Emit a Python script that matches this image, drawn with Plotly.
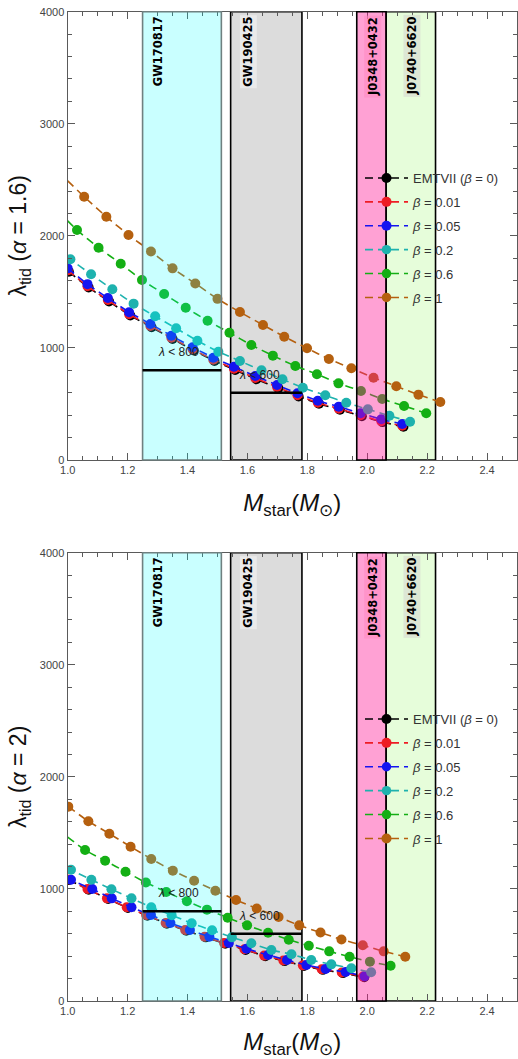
import plotly.graph_objects as go

# ---------------- data: alpha = 1.6 ----------------
a16_m_emt = [1.004, 1.070, 1.138, 1.209, 1.280, 1.350, 1.421, 1.490, 1.559, 1.630, 1.703, 1.771, 1.839, 1.909, 1.982, 2.051, 2.121]
a16_l_emt = [1680, 1539, 1415, 1289, 1184, 1080, 977, 884, 803, 720, 641, 567, 502, 449, 391, 338, 296]
a16_m_b001 = [1.000, 1.066, 1.134, 1.205, 1.276, 1.346, 1.417, 1.486, 1.555, 1.626, 1.699, 1.767, 1.835, 1.905, 1.978, 2.047, 2.117]
a16_l_b001 = [1692, 1551, 1427, 1301, 1196, 1091, 988, 895, 814, 731, 651, 577, 511, 458, 399, 345, 305]
a16_m_b005 = [1.000, 1.066, 1.134, 1.205, 1.276, 1.346, 1.417, 1.486, 1.555, 1.626, 1.699, 1.767, 1.835, 1.905, 1.978, 2.047, 2.117]
a16_l_b005 = [1710, 1569, 1445, 1319, 1214, 1109, 1006, 913, 832, 749, 669, 595, 529, 476, 417, 363, 321]
a16_m_b02 = [1.009, 1.078, 1.149, 1.220, 1.292, 1.362, 1.433, 1.503, 1.575, 1.647, 1.717, 1.785, 1.860, 1.930, 2.002, 2.074, 2.143]
a16_l_b02 = [1791, 1657, 1523, 1395, 1282, 1175, 1064, 966, 883, 800, 720, 645, 577, 511, 452, 395, 342]
a16_m_b06 = [1.031, 1.103, 1.177, 1.248, 1.322, 1.394, 1.467, 1.540, 1.613, 1.685, 1.760, 1.832, 1.904, 1.979, 2.050, 2.123, 2.197]
a16_l_b06 = [2052, 1894, 1751, 1606, 1481, 1359, 1243, 1136, 1026, 931, 839, 765, 684, 616, 544, 482, 417]
a16_m_b1 = [1.055, 1.129, 1.203, 1.278, 1.350, 1.426, 1.500, 1.575, 1.652, 1.723, 1.799, 1.872, 1.947, 2.021, 2.097, 2.171, 2.244]
a16_l_b1 = [2349, 2171, 2008, 1860, 1710, 1575, 1438, 1320, 1205, 1100, 997, 901, 818, 734, 658, 583, 517]
# fitted curves start at M = 1.0
a16_start = [1690, 1700, 1727, 1815, 2134, 2491]

# ---------------- data: alpha = 2 ----------------
a2_m_emt = [1.004, 1.070, 1.135, 1.201, 1.266, 1.331, 1.396, 1.461, 1.526, 1.594, 1.660, 1.724, 1.789, 1.852, 1.919, 1.990]
a2_l_emt = [1079, 993, 910, 830, 761, 690, 627, 568, 511, 456, 399, 356, 312, 278, 249, 212]
a2_m_b001 = [1.000, 1.066, 1.131, 1.197, 1.262, 1.327, 1.392, 1.457, 1.522, 1.590, 1.656, 1.720, 1.785, 1.848, 1.915, 1.986]
a2_l_b001 = [1085, 999, 916, 836, 767, 696, 633, 574, 517, 462, 405, 362, 318, 284, 255, 218]
a2_m_b005 = [1.011, 1.082, 1.147, 1.213, 1.278, 1.343, 1.408, 1.473, 1.538, 1.597, 1.669, 1.732, 1.797, 1.861, 1.928, 1.991]
a2_l_b005 = [1082, 999, 916, 836, 767, 696, 633, 574, 517, 467, 410, 366, 321, 286, 258, 220]
a2_m_b02 = [1.011, 1.079, 1.146, 1.213, 1.279, 1.347, 1.414, 1.482, 1.548, 1.613, 1.680, 1.747, 1.813, 1.880, 1.947, 2.013]
a2_l_b02 = [1171, 1082, 997, 916, 837, 766, 693, 631, 568, 515, 455, 417, 366, 327, 292, 256]
a2_m_b06 = [1.058, 1.125, 1.193, 1.261, 1.329, 1.398, 1.465, 1.534, 1.599, 1.669, 1.738, 1.805, 1.873, 1.941, 2.009, 2.078]
a2_l_b06 = [1347, 1252, 1154, 1057, 973, 890, 815, 743, 675, 609, 547, 493, 443, 395, 351, 315]
a2_m_b1 = [1.002, 1.069, 1.139, 1.210, 1.279, 1.351, 1.422, 1.493, 1.562, 1.631, 1.704, 1.773, 1.844, 1.914, 1.985, 2.055, 2.127]
a2_l_b1 = [1734, 1604, 1493, 1377, 1267, 1163, 1073, 984, 901, 825, 749, 675, 611, 549, 497, 443, 395]
a2_start = [1090, 1095, 1109, 1193, 1463, 1749]

series_names = ["EMTVII (<i>β</i> = 0)", "<i>β</i> = 0.01", "<i>β</i> = 0.05",
                "<i>β</i> = 0.2", "<i>β</i> = 0.6", "<i>β</i> = 1"]
series_colors = ["#000000", "#EE1C24", "#1414F0", "#1EB2AE", "#14AF14", "#B5600F"]

# observational mass windows
band_names = ["GW170817", "GW190425", "J0348+0432", "J0740+6620"]
band_lo = [1.25, 1.544, 1.965, 2.063]
band_hi = [1.513, 1.782, 2.063, 2.228]
band_label_x = [1.30, 1.602, 2.019, 2.15]
# tidal upper limits over the GW windows
limit_values = [800, 600]
limit_text = ["<i>λ</i> < 800", "<i>λ</i> < 600"]
limit_text_x = [1.37, 1.64]

panels = [
    dict(m=[a16_m_emt, a16_m_b001, a16_m_b005, a16_m_b02, a16_m_b06, a16_m_b1],
         l=[a16_l_emt, a16_l_b001, a16_l_b005, a16_l_b02, a16_l_b06, a16_l_b1],
         start=a16_start, ytitle="λ<sub>tid</sub> (<i>α</i> = 1.6)"),
    dict(m=[a2_m_emt, a2_m_b001, a2_m_b005, a2_m_b02, a2_m_b06, a2_m_b1],
         l=[a2_l_emt, a2_l_b001, a2_l_b005, a2_l_b02, a2_l_b06, a2_l_b1],
         start=a2_start, ytitle="λ<sub>tid</sub> (<i>α</i> = 2)"),
]

W, H = 518, 1059
FONT = "Liberation Sans, Arial, sans-serif"
x_dom = [67.7 / W, 517.0 / W]
y_doms = [[1 - 460 / H, 1 - 11.7 / H], [1 - 1001 / H, 1 - 552.7 / H]]
legend_tops = [1 - 163 / H, 1 - 704 / H]

fig = go.Figure()
layout = dict(width=W, height=H, margin=dict(l=0, r=0, t=0, b=0, autoexpand=False),
              paper_bgcolor="white", plot_bgcolor="white",
              font=dict(family=FONT, color="#333333"))
shapes, annotations = [], []

for p, panel in enumerate(panels):
    sfx = "" if p == 0 else str(p + 1)
    xa, ya = "x" + sfx, "y" + sfx
    leg = "legend" + sfx
    for k in range(6):
        ms, ls = panel["m"][k], panel["l"][k]
        xs, ys, sz = list(ms), list(ls), [10] * len(ms)
        if ms[0] > 1.004:
            xs = [1.0] + xs
            ys = [panel["start"][k]] + ys
            sz = [0] + sz
        fig.add_trace(go.Scatter(
            x=xs, y=ys, xaxis=xa, yaxis=ya, mode="lines+markers",
            name=series_names[k], legend=leg, legendgroup=f"p{p}s{k}",
            line=dict(color=series_colors[k], width=1.6, dash="8px,5px", shape="spline", smoothing=0.6),
            marker=dict(color=series_colors[k], size=sz, opacity=1, line=dict(width=0)),
            hoverinfo="skip"))

    axis_common = dict(showline=True, linecolor="#5a5a5a", linewidth=1.3, mirror="allticks",
                       ticks="inside", ticklen=7, tickwidth=1.1, tickcolor="#5a5a5a",
                       showgrid=False, zeroline=False, automargin=False,
                       tickfont=dict(family=FONT, size=11, color="#444444"))
    layout["xaxis" + sfx] = dict(axis_common, domain=x_dom, range=[1.0, 2.5], tick0=1.0, dtick=0.2,
                                 tickformat=".1f", anchor=ya,
                                 minor=dict(dtick=0.05, ticklen=4, tickcolor="#5a5a5a", ticks="inside"),
                                 title=dict(text="<i>M</i><sub>star</sub>(<i>M</i><sub>⊙</sub>)",
                                            font=dict(family=FONT, size=24, color="#111111"), standoff=18))
    layout["yaxis" + sfx] = dict(axis_common, domain=y_doms[p], range=[0, 4000], tick0=0, dtick=1000,
                                 tickformat="d", anchor=xa,
                                 minor=dict(dtick=200, ticklen=4, tickcolor="#5a5a5a", ticks="inside"),
                                 title=dict(text=panel["ytitle"],
                                            font=dict(family=FONT, size=23, color="#111111"), standoff=6))
    layout[leg] = dict(x=360 / W, y=legend_tops[p], xanchor="left", yanchor="top",
                       bgcolor="rgba(0,0,0,0)", borderwidth=0, tracegroupgap=4,
                       traceorder="grouped", itemwidth=43,
                       font=dict(family=FONT, size=13, color="#333333"))

    # mass windows
    band_fill = ["rgba(0,255,255,0.21)", "#DCDCDC", "rgba(255,20,147,0.40)", "#E6FDDA"]
    band_line = ["#6F8080", "#000000", "#000000", "#000000"]
    band_layer = ["above", "below", "above", "below"]
    label_bg = ["rgba(0,0,0,0)", "rgba(235,235,235,0.9)", "rgba(255,140,195,0.6)", "rgba(220,228,212,0.9)"]
    for b in range(4):
        shapes.append(dict(type="rect", xref=xa, yref=ya + " domain", x0=band_lo[b], x1=band_hi[b],
                           y0=0, y1=1, fillcolor=band_fill[b], layer=band_layer[b],
                           line=dict(color=band_line[b], width=1.6)))
        annotations.append(dict(xref=xa, yref=ya, x=band_label_x[b], y=4000, yshift=-3,
                                text=band_names[b], textangle=-90, showarrow=False,
                                xanchor="center", yanchor="top", bgcolor=label_bg[b], borderpad=1,
                                font=dict(family="DejaVu Sans", size=11.5, color="#000000", weight="bold")))
    for j in range(2):
        shapes.append(dict(type="line", xref=xa, yref=ya, x0=band_lo[j], x1=band_hi[j],
                           y0=limit_values[j], y1=limit_values[j], layer="above",
                           line=dict(color="#000000", width=2.5)))
        annotations.append(dict(xref=xa, yref=ya, x=limit_text_x[j], y=limit_values[j], yshift=18,
                                text=limit_text[j], showarrow=False,
                                font=dict(family=FONT, size=12, color="#222222")))

layout["shapes"] = shapes
layout["annotations"] = annotations
fig.update_layout(**layout)
fig.write_html("out.html")
